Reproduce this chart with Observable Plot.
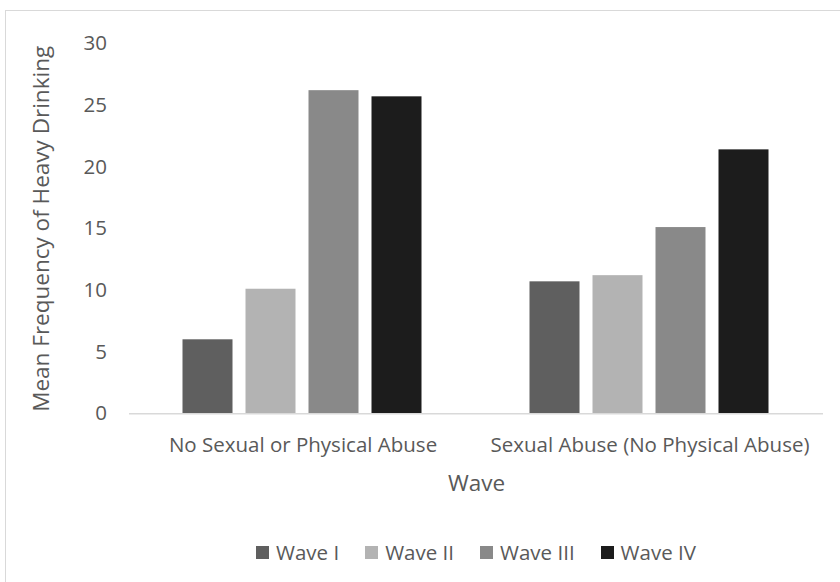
<!DOCTYPE html>
<html>
<head>
<meta charset="utf-8">
<script src="https://cdn.jsdelivr.net/npm/d3@7"></script>
<script src="https://cdn.jsdelivr.net/npm/@observablehq/plot@0.6"></script>
<style>
  html, body { margin: 0; padding: 0; background: #fff; }
  body { width: 840px; height: 582px; overflow: hidden; position: relative; font-family: "Open Sans", sans-serif; color: #595959; }
  .frame { position: absolute; left: 5px; top: 10px; width: 900px; height: 700px; border: 1.5px solid #d9d9d9; box-sizing: border-box; }
  #chart { position: absolute; left: 0; top: 0; }
  #chart svg g[aria-label="y-axis tick label"],
  #chart svg g[aria-label="fx-axis tick label"] { font-size: 20.5px; }
  #chart svg g[aria-label="y-axis label"],
  #chart svg g[aria-label="fx-axis label"] { font-size: 22.5px; }
  #legend { position: absolute; left: 0; top: 538px; width: 952px; display: flex; justify-content: center; align-items: center; font-size: 20.5px; line-height: 28px; }
  .item { display: flex; align-items: center; margin: 0 13px; }
  .swatch { width: 13px; height: 13px; margin-right: 7px; }
</style>
</head>
<body>
<div class="frame"></div>
<div id="chart"></div>
<div id="legend"></div>
<script>
// Abuse groups, survey waves and the mean heavy-drinking frequency per wave
const groups = ["No Sexual or Physical Abuse", "Sexual Abuse (No Physical Abuse)"];
const waves = ["Wave I", "Wave II", "Wave III", "Wave IV"];
const noAbuseMeans = [6.0, 10.1, 26.2, 25.7];
const sexualAbuseMeans = [10.7, 11.2, 15.1, 21.4];
const waveColors = ["#5f5f5f", "#b3b3b3", "#898989", "#1c1c1c"];
const yTicks = [0, 5, 10, 15, 20, 25, 30];

const seriesByGroup = [noAbuseMeans, sexualAbuseMeans];
const rows = groups.flatMap((group, g) =>
  waves.map((wave, w) => ({group, wave, value: seriesByGroup[g][w]}))
);

const chart = Plot.plot({
  width: 840,
  height: 510,
  marginLeft: 128.5,
  marginRight: 17.5,
  marginTop: 43.3,
  marginBottom: 96.7,
  style: {fontFamily: "'Open Sans', sans-serif", color: "#595959", background: "transparent", overflow: "visible"},
  fx: {domain: groups, padding: 0},
  x: {domain: waves, paddingInner: 0.2, paddingOuter: 0.85, axis: null},
  y: {domain: [0, 30]},
  color: {domain: waves, range: waveColors},
  marks: [
    Plot.barY(rows, {fx: "group", x: "wave", y: "value", fill: "wave"}),
    Plot.ruleY([0], {stroke: "#d9d9d9", strokeWidth: 1.5}),
    Plot.axisY({
      ticks: yTicks,
      tickSize: 0,
      tickPadding: 22.5,
      tickFormat: d3.format("d"),
      label: "Mean Frequency of Heavy Drinking",
      labelAnchor: "center",
      labelArrow: "none",
      labelOffset: 96
    }),
    Plot.axisFx({
      anchor: "bottom",
      tickSize: 0,
      tickPadding: 23.8,
      label: "Wave",
      labelAnchor: "center",
      labelArrow: "none",
      labelOffset: 77
    })
  ]
});
document.getElementById("chart").appendChild(chart);

// Legend row under the chart
const legend = document.getElementById("legend");
waves.forEach((wave, i) => {
  const item = document.createElement("div");
  item.className = "item";
  const sw = document.createElement("span");
  sw.className = "swatch";
  sw.style.background = waveColors[i];
  const label = document.createElement("span");
  label.textContent = wave;
  item.appendChild(sw);
  item.appendChild(label);
  legend.appendChild(item);
});
</script>
</body>
</html>
